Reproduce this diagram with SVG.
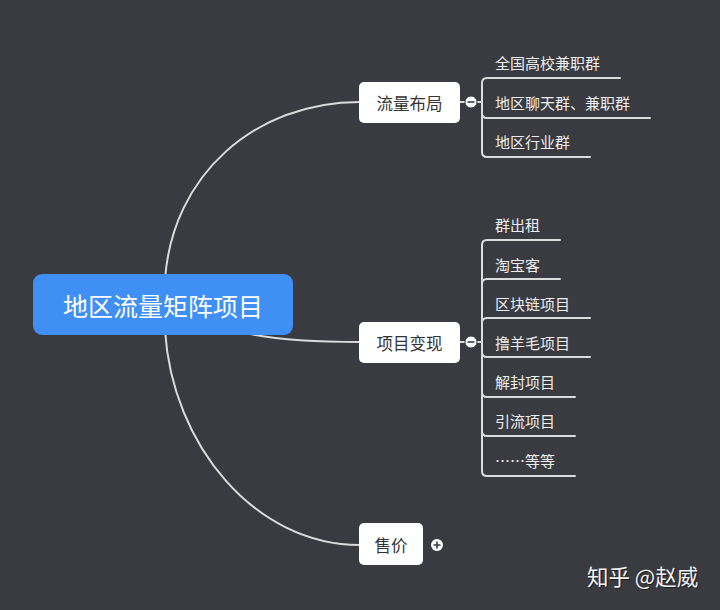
<svg xmlns="http://www.w3.org/2000/svg" width="720" height="610" viewBox="0 0 720 610">
<style>
.bg{fill:#393b40}
.ln{fill:none;stroke:#dcdcdc;stroke-width:2;stroke-linecap:round}
.box{fill:#ffffff}
.t{font-family:"Noto Sans CJK SC","Noto Sans",sans-serif;dominant-baseline:central}
.nt{font-size:16.5px;fill:#333333;text-anchor:middle}
.ct{font-size:15px;fill:#eeeeee}
.root{fill:#3f8ff4}
.rt{font-size:25px;fill:#ffffff;text-anchor:middle}
.tg{fill:#ffffff;stroke:#393b40;stroke-width:1}
.tgm{stroke:#393b40;stroke-width:1.6;fill:none}
</style>
<rect class="bg" x="0" y="0" width="720" height="610"/>
<g id="connectors">
<path class="ln" d="M165,280 C172,175 255,102 360,102"/>
<path class="ln" d="M250,334 Q290,342 360,342"/>
<path class="ln" d="M165,330 C172,445 255,545 360,545"/>
<path class="ln" d="M460,102 H482 V83 Q482,78 487,78 H620"/>
<path class="ln" d="M482,102 V113 Q482,118 487,118 H650"/>
<path class="ln" d="M482,102 V152 Q482,157 487,157 H590"/>
<path class="ln" d="M460,342 H482 V245 Q482,240 487,240 H560"/>
<path class="ln" d="M482,342 V284 Q482,279 487,279 H560"/>
<path class="ln" d="M482,342 V323 Q482,318 487,318 H590"/>
<path class="ln" d="M482,342 V352 Q482,357 487,357 H590"/>
<path class="ln" d="M482,342 V392 Q482,397 487,397 H575"/>
<path class="ln" d="M482,342 V431 Q482,436 487,436 H575"/>
<path class="ln" d="M482,342 V471 Q482,476 487,476 H575"/>
</g>
<g id="root">
<rect class="root" x="33" y="274" width="260" height="61" rx="9"/>
<text class="t rt" x="163" y="305">地区流量矩阵项目</text>
</g>
<g id="n-liuliang">
<rect class="box" x="359" y="82" width="101" height="41" rx="5"/>
<text class="t nt" x="409.5" y="102.5">流量布局</text>
<circle class="tg" cx="471" cy="102" r="6"/>
<path class="tgm" d="M467.5,102 H474.5"/>
</g>
<g id="c1"><text class="t ct" x="495" y="62">全国高校兼职群</text></g>
<g id="c2"><text class="t ct" x="495" y="102">地区聊天群、兼职群</text></g>
<g id="c3"><text class="t ct" x="495" y="141">地区行业群</text></g>
<g id="n-xiangmu">
<rect class="box" x="359" y="322" width="101" height="41" rx="5"/>
<text class="t nt" x="409.5" y="342.5">项目变现</text>
<circle class="tg" cx="471" cy="342" r="6"/>
<path class="tgm" d="M467.5,342 H474.5"/>
</g>
<g id="d1"><text class="t ct" x="495" y="224">群出租</text></g>
<g id="d2"><text class="t ct" x="495" y="264">淘宝客</text></g>
<g id="d3"><text class="t ct" x="495" y="303">区块链项目</text></g>
<g id="d4"><text class="t ct" x="495" y="342">撸羊毛项目</text></g>
<g id="d5"><text class="t ct" x="495" y="381">解封项目</text></g>
<g id="d6"><text class="t ct" x="495" y="420">引流项目</text></g>
<g id="d7"><text class="t ct" x="495" y="460">……等等</text></g>
<g id="n-shoujia">
<rect class="box" x="359" y="523" width="64" height="42" rx="5"/>
<text class="t nt" x="391" y="545">售价</text>
<circle cx="437" cy="545" r="6" fill="#ffffff"/>
<path class="tgm" d="M433.5,545 H440.5 M437,541.5 V548.5"/>
</g>
<g id="watermark">
<text x="588" y="586" font-family="Noto Sans CJK SC,sans-serif" font-size="21.5" fill="#000000" opacity="0.5">知乎 @赵威</text>
<text x="587" y="585" font-family="Noto Sans CJK SC,sans-serif" font-size="21.5" fill="#f2f2f2">知乎 @赵威</text>
</g>
</svg>
